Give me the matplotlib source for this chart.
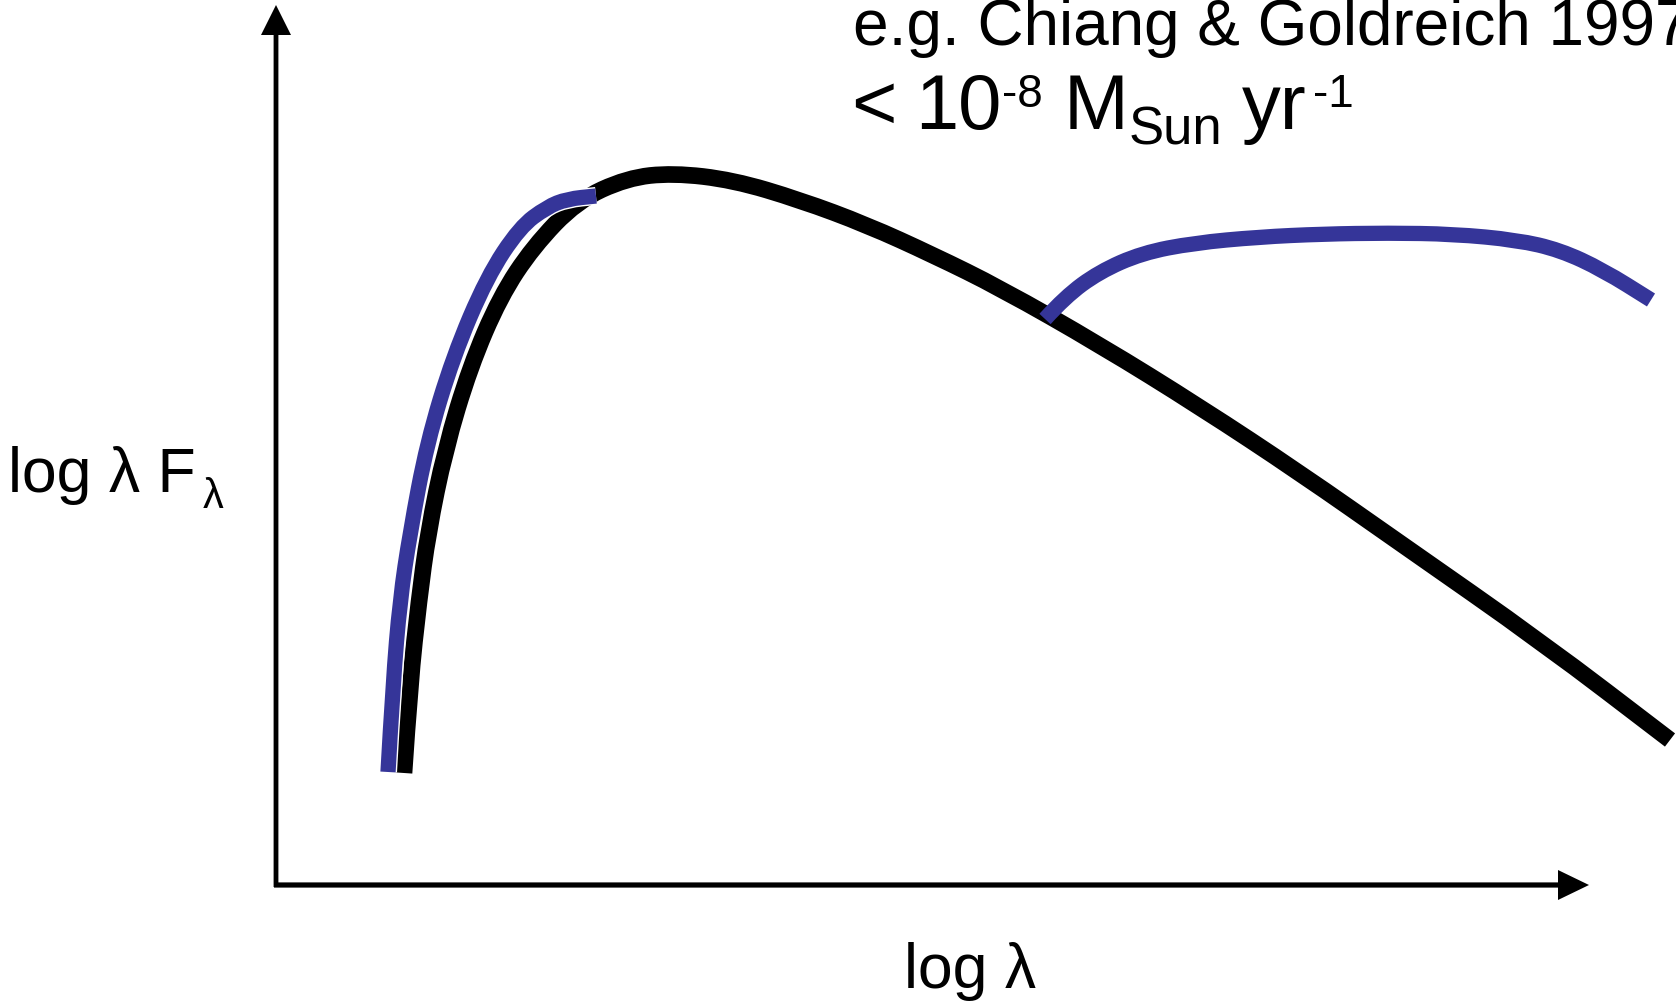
import matplotlib.pyplot as plt
import matplotlib.patheffects as pe
from matplotlib.path import Path
from matplotlib.patches import PathPatch

# schematic SED, coordinates in canvas pixels (y grows downward)
star_x = [404, 410, 419, 428, 445, 470, 500, 533, 577, 627, 673, 733, 800, 867,
          933, 1000, 1100, 1200, 1300, 1400, 1543, 1670]
star_y = [773, 683, 600, 533, 450, 367, 297, 247, 201, 178, 173, 180, 200, 225,
          255, 288, 345, 407, 473, 543, 643, 740]

hot_x = [388, 393, 400, 410, 427, 453, 487, 520, 547, 567, 596]
hot_y = [772, 683, 600, 533, 443, 357, 277, 227, 207, 199, 196]

disk_x = [1045, 1065, 1099, 1142, 1194, 1259, 1323, 1388, 1453, 1517, 1560, 1603,
          1651]
disk_y = [319, 297, 272, 253, 243, 237, 234, 233, 234, 240, 250, 270, 300]

W, H = 1676, 1005
ORIGIN = (276, 885)
X_TIP, Y_TIP = 1589, 5
BLUE = '#353599'
FONT = 'Liberation Sans'


def smooth(xs, ys):
    # quadratic bezier through the midpoints, using the points as controls
    pts = list(zip(xs, ys))
    verts = [pts[0]]
    codes = [Path.MOVETO]
    for a, b in zip(pts[1:-1], pts[2:]):
        verts += [a, ((a[0] + b[0]) / 2, (a[1] + b[1]) / 2)]
        codes += [Path.CURVE3, Path.CURVE3]
    verts.append(pts[-1])
    codes.append(Path.LINETO)
    return Path(verts, codes)


fig = plt.figure(figsize=(W / 100, H / 100), dpi=100)
ax = fig.add_axes([0, 0, 1, 1])
ax.set_xlim(0, W)
ax.set_ylim(H, 0)
ax.axis('off')

# axes drawn as arrows
ax.arrow(ORIGIN[0], ORIGIN[1] + 2, 0, Y_TIP - ORIGIN[1] - 2, width=4.8,
         head_width=30, head_length=30, length_includes_head=True,
         fc='black', ec='none')
ax.arrow(ORIGIN[0] - 2, ORIGIN[1], X_TIP - ORIGIN[0] + 2, 0, width=5.2,
         head_width=30, head_length=31, length_includes_head=True,
         fc='black', ec='none')

ax.add_patch(PathPatch(smooth(star_x, star_y), fill=False, ec='black', lw=12,
                       capstyle='butt', joinstyle='round'))
ax.add_patch(PathPatch(smooth(hot_x, hot_y), fill=False, ec=BLUE, lw=11,
                       capstyle='butt', joinstyle='round',
                       path_effects=[pe.Stroke(linewidth=13, foreground='white'),
                                     pe.Normal()]))
ax.add_patch(PathPatch(smooth(disk_x, disk_y), fill=False, ec=BLUE, lw=11,
                       capstyle='butt', joinstyle='round'))


def put(x, y, s, size):
    ax.text(x, y, s, fontsize=size, family=FONT, color='black',
            ha='left', va='baseline')


# axis labels
put(8, 492, 'log λ F', 45)
put(203, 508, 'λ', 30)
put(904, 988, 'log λ', 45)

# reference and accretion rate
put(853, 45, 'e.g. Chiang & Goldreich 1997', 46)

put(851, 129, '<', 56)
put(915, 129, '10', 56)
put(1002, 107, '-8', 33)
put(1064, 129, 'M', 56)
put(1129, 144, 'Sun', 38)
put(1242, 129, 'yr', 56)
put(1313, 107, '-1', 33)

fig.savefig('out.png', dpi=100)
